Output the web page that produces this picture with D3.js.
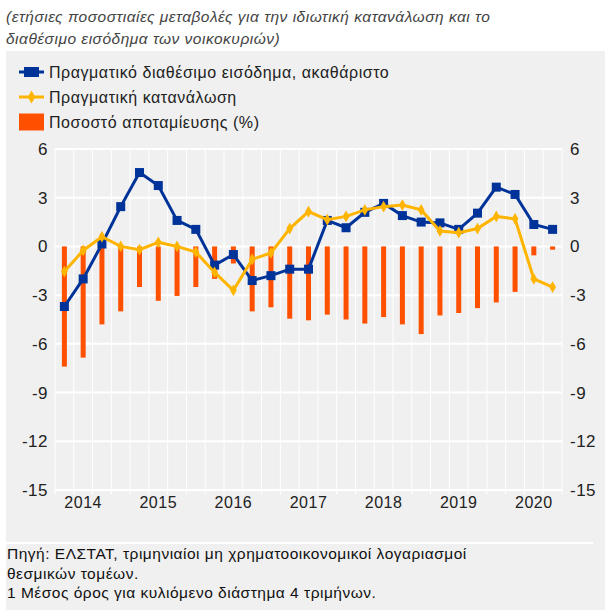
<!DOCTYPE html>
<html>
<head>
<meta charset="utf-8">
<script src="https://cdn.jsdelivr.net/npm/d3@7"></script>
<style>
  body { margin: 0; background: #fff; }
  text { font-family: "Liberation Sans", Arial, sans-serif; }
</style>
</head>
<body>
<svg></svg>
<script>
// Basic setup
const width = 605;
const height = 610;

// Quarters (2013Q4 - 2020Q2)
const quarters = [
    "2013Q4",
    "2014Q1", "2014Q2", "2014Q3", "2014Q4",
    "2015Q1", "2015Q2", "2015Q3", "2015Q4",
    "2016Q1", "2016Q2", "2016Q3", "2016Q4",
    "2017Q1", "2017Q2", "2017Q3", "2017Q4",
    "2018Q1", "2018Q2", "2018Q3", "2018Q4",
    "2019Q1", "2019Q2", "2019Q3", "2019Q4",
    "2020Q1", "2020Q2"
];
const yearTicks = ["2014Q1", "2015Q1", "2016Q1", "2017Q1", "2018Q1", "2019Q1", "2020Q1"];
const yTicks = [6, 3, 0, -3, -6, -9, -12, -15];

// Series
const income = [-3.7, -2.0, 0.15, 2.45, 4.55, 3.75, 1.6, 1.05, -1.15, -0.5,
    -2.1, -1.8, -1.4, -1.4, 1.6, 1.15, 2.1, 2.65, 1.9, 1.5,
    1.45, 1.05, 2.05, 3.65, 3.2, 1.35, 1.05];
const consumption = [-1.55, -0.25, 0.6, 0.0, -0.2, 0.25, 0.0, -0.35, -1.6, -2.7,
    -0.8, -0.4, 1.1, 2.15, 1.65, 1.85, 2.25, 2.45, 2.55, 2.25,
    0.95, 0.85, 1.1, 1.85, 1.7, -2.0, -2.5];
const saving = [-7.4, -6.85, -4.8, -4.0, -2.5, -3.35, -3.05, -2.5, -2.0, -1.05,
    -4.0, -3.75, -4.45, -4.55, -4.2, -4.5, -4.75, -4.35, -4.8, -5.4,
    -4.25, -4.1, -3.8, -3.45, -2.8, -0.55, -0.2];

const legendLabels = [
    "Πραγματικό διαθέσιμο εισόδημα, ακαθάριστο",
    "Πραγματική κατανάλωση",
    "Ποσοστό αποταμίευσης (%)"
];

const blue = "#003399";
const yellow = "#ffb400";
const orange = "#ff5000";

const svg = d3.select("svg")
    .attr("width", width)
    .attr("height", height);

// Title (white area)
const title = svg.append("text")
    .attr("font-size", 15.5)
    .attr("letter-spacing", 0.5)
    .attr("font-style", "italic")
    .attr("fill", "#444");
title.append("tspan").attr("x", 6).attr("y", 22)
    .text("(ετήσιες ποσοστιαίες μεταβολές για την ιδιωτική κατανάλωση και το");
title.append("tspan").attr("x", 6).attr("y", 44)
    .text("διαθέσιμο εισόδημα των νοικοκυριών)");

// Gray panel
svg.append("rect")
    .attr("x", 6)
    .attr("y", 51)
    .attr("width", width - 6)
    .attr("height", height - 51)
    .attr("fill", "#f0f0f0");

// Scales
const x = d3.scaleBand()
    .domain(quarters)
    .range([55, 562]);

const y = d3.scaleLinear()
    .domain([-15, 6])
    .range([490, 149]);

// Grid
svg.selectAll(".hgrid")
    .data(yTicks)
    .enter()
    .append("line")
    .attr("class", "hgrid")
    .attr("x1", 55)
    .attr("x2", 562)
    .attr("y1", d => y(d))
    .attr("y2", d => y(d))
    .attr("stroke", "#fff")
    .attr("stroke-width", 2);

const edges = quarters.map(q => x(q)).concat([x.range()[1]]);
svg.selectAll(".vgrid")
    .data(edges)
    .enter()
    .append("line")
    .attr("class", "vgrid")
    .attr("x1", d => d)
    .attr("x2", d => d)
    .attr("y1", y(6))
    .attr("y2", y(-15) + 4)
    .attr("stroke", "#fff")
    .attr("stroke-width", 1);

// Axis labels
svg.selectAll(".ylabel-left")
    .data(yTicks)
    .enter()
    .append("text")
    .attr("x", 48)
    .attr("y", d => y(d) + 6)
    .attr("text-anchor", "end")
    .attr("font-size", 17)
    .attr("letter-spacing", 0.5)
    .attr("fill", "#222")
    .text(d => d);

svg.selectAll(".ylabel-right")
    .data(yTicks)
    .enter()
    .append("text")
    .attr("x", 570)
    .attr("y", d => y(d) + 6)
    .attr("font-size", 17)
    .attr("letter-spacing", 0.5)
    .attr("fill", "#222")
    .text(d => d);

svg.selectAll(".xlabel")
    .data(yearTicks)
    .enter()
    .append("text")
    .attr("x", d => x(d) + x.bandwidth() / 2)
    .attr("y", 508)
    .attr("text-anchor", "middle")
    .attr("font-size", 16)
    .attr("letter-spacing", 0.5)
    .attr("fill", "#222")
    .text(d => d.slice(0, 4));

// Bars
const barW = 5;
svg.selectAll(".bar")
    .data(saving)
    .enter()
    .append("rect")
    .attr("class", "bar")
    .attr("x", (d, i) => x(quarters[i]) + x.bandwidth() / 2 - barW / 2)
    .attr("y", d => y(Math.max(0, d)))
    .attr("width", barW)
    .attr("height", d => Math.abs(y(d) - y(0)))
    .attr("fill", orange);

// Lines
const line = d3.line()
    .x((d, i) => x(quarters[i]) + x.bandwidth() / 2)
    .y(d => y(d));

svg.append("path")
    .datum(income)
    .attr("d", line)
    .attr("fill", "none")
    .attr("stroke", blue)
    .attr("stroke-width", 3);

svg.selectAll(".sq")
    .data(income)
    .enter()
    .append("rect")
    .attr("x", (d, i) => x(quarters[i]) + x.bandwidth() / 2 - 4.5)
    .attr("y", d => y(d) - 4.5)
    .attr("width", 9)
    .attr("height", 9)
    .attr("fill", blue);

svg.append("path")
    .datum(consumption)
    .attr("d", line)
    .attr("fill", "none")
    .attr("stroke", yellow)
    .attr("stroke-width", 3);

const diamond = d3.symbol().type(d3.symbolDiamond).size(40);
svg.selectAll(".dm")
    .data(consumption)
    .enter()
    .append("path")
    .attr("d", diamond)
    .attr("transform", (d, i) => `translate(${x(quarters[i]) + x.bandwidth() / 2},${y(d)})`)
    .attr("fill", yellow);

// Legend
const legendY = [72, 97, 122];
const lg = svg.append("g");

lg.append("line")
    .attr("x1", 19).attr("x2", 44)
    .attr("y1", legendY[0]).attr("y2", legendY[0])
    .attr("stroke", blue).attr("stroke-width", 3);
lg.append("rect")
    .attr("x", 24).attr("y", legendY[0] - 5)
    .attr("width", 15).attr("height", 10)
    .attr("fill", blue);

lg.append("line")
    .attr("x1", 19).attr("x2", 44)
    .attr("y1", legendY[1]).attr("y2", legendY[1])
    .attr("stroke", yellow).attr("stroke-width", 3);
lg.append("path")
    .attr("d", d3.symbol().type(d3.symbolDiamond).size(50))
    .attr("transform", `translate(31.5,${legendY[1]})`)
    .attr("fill", yellow);

lg.append("rect")
    .attr("x", 19).attr("y", legendY[2] - 8.5)
    .attr("width", 25).attr("height", 17)
    .attr("fill", orange);

lg.selectAll(".ltext")
    .data(legendLabels)
    .enter()
    .append("text")
    .attr("x", 49)
    .attr("y", (d, i) => legendY[i] + 6)
    .attr("font-size", 16)
    .attr("letter-spacing", 0.55)
    .attr("fill", "#222")
    .text(d => d);

// Footer
svg.append("line")
    .attr("x1", 6).attr("x2", 593)
    .attr("y1", 543).attr("y2", 543)
    .attr("stroke", "#fff")
    .attr("stroke-width", 2);

const footer = [
    "Πηγή: ΕΛΣΤΑΤ, τριμηνιαίοι μη χρηματοοικονομικοί λογαριασμοί",
    "θεσμικών τομέων.",
    "1 Μέσος όρος για κυλιόμενο διάστημα 4 τριμήνων."
];
svg.selectAll(".foot")
    .data(footer)
    .enter()
    .append("text")
    .attr("x", 7)
    .attr("y", (d, i) => 559 + i * 19.5)
    .attr("font-size", 15.5)
    .attr("letter-spacing", 0.5)
    .attr("fill", "#111")
    .text(d => d);
</script>
</body>
</html>
